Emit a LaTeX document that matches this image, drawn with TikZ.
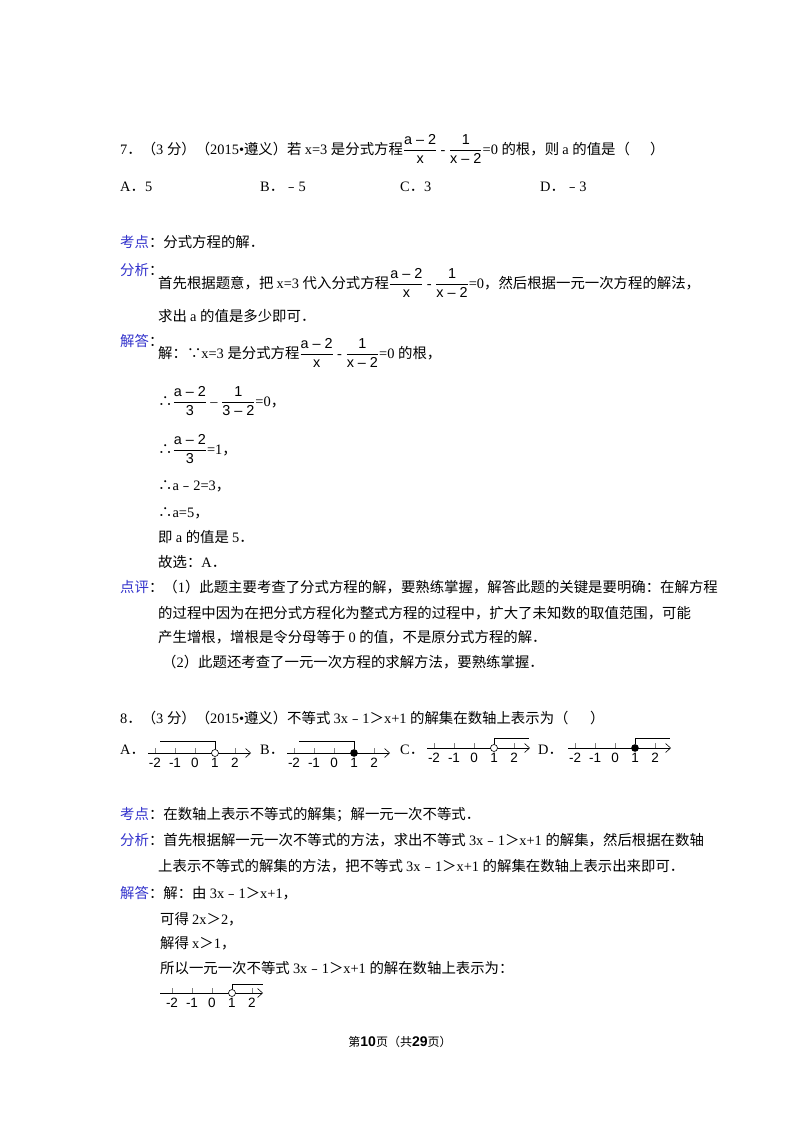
\documentclass[tikz,border=0pt]{standalone}
\usepackage{fontspec}
\usetikzlibrary{arrows.meta}
\setmainfont{Liberation Serif}
\newfontfamily\cjk{Noto Sans CJK SC}
\newfontfamily\lat{Liberation Serif}
\newfontfamily\arlf{Liberation Sans}
\newcommand\arl{\XeTeXinterchartokenstate=0 \arlf}
\XeTeXinterchartokenstate=1
\count255="4E00
\loop\XeTeXcharclass\count255=5 \ifnum\count255<"9FFF \advance\count255 by 1 \repeat
\count255="3000
\loop\XeTeXcharclass\count255=5 \ifnum\count255<"303F \advance\count255 by 1 \repeat
\count255="FF00
\loop\XeTeXcharclass\count255=5 \ifnum\count255<"FFEF \advance\count255 by 1 \repeat
\count255="FE30
\loop\XeTeXcharclass\count255=5 \ifnum\count255<"FE6F \advance\count255 by 1 \repeat
\XeTeXcharclass"2234=5 \XeTeXcharclass"2235=5
\XeTeXinterchartoks 0 5 = {\cjk}
\XeTeXinterchartoks 4095 5 = {\cjk}
\XeTeXinterchartoks 5 0 = {\lat}
\XeTeXinterchartoks 4095 0 = {\lat}
\newcommand\fr[2]{$\displaystyle\frac{\hbox{\arl #1}}{\hbox{\arl #2}}$}
\definecolor{lab}{RGB}{51,51,204}
\newcommand\lb[1]{\textcolor{lab}{#1}}
\tikzset{t/.style={anchor=base west,inner sep=0pt,font=\fontsize{14.4}{16}\selectfont},
 ax/.style={line width=0.6pt,-{Straight Barb[length=5pt,width=9pt]}},
 nlab/.style={anchor=base,inner sep=0pt,font=\arl\fontsize{13.5}{14}\selectfont}}
\newcommand\numax[3]{% x0, y, tick0
 \draw[ax] (#1,#2) -- ++(103,0);
 \foreach \k/\l in {0/-2,1/-1,2/0,3/1,4/2}{
  \draw[line width=0.4pt,gray] (#3+20*\k,#2) -- ++(0,-5);
  \node[nlab] at (#3+20*\k,#2+14) {\l};}}
\begin{document}
\begin{tikzpicture}[x=1pt,y=-1pt]
\useasboundingbox[fill=white] (0,0) rectangle (800,1132);
\node[t] (q7) at (120,154) {7．（3 分）（2015•遵义）若 x=3 是分式方程\fr{a – 2}{x} - \fr{1}{x – 2}=0 的根，则 a 的值是（};
\node[t] (q7e) at (650,154) {）};
\node[t] (a7) at (120,191) {A．5};
\node[t] (b7) at (260,191) {B．﹣5};
\node[t] (c7) at (400,191) {C．3};
\node[t] (d7) at (540,191) {D．﹣3};
\node[t] (k1) at (120,247) {\lb{考点}：分式方程的解．};
\node[t] (f1) at (120,275) {\lb{分析}：};
\node[t] (f1a) at (158,288) {首先根据题意，把 x=3 代入分式方程\fr{a – 2}{x} - \fr{1}{x – 2}=0，然后根据一元一次方程的解法，};
\node[t] (f1b) at (158,321) {求出 a 的值是多少即可．};
\node[t] (j1) at (120,346) {\lb{解答}：};
\node[t] (j1a) at (158,358) {解：∵x=3 是分式方程\fr{a – 2}{x} - \fr{1}{x – 2}=0 的根，};
\node[t] (j1b) at (158,406) {∴\fr{a – 2}{3} – \fr{1}{3 – 2}=0，};
\node[t] (j1c) at (158,454) {∴\fr{a – 2}{3}=1，};
\node[t] (j1d) at (158,490) {∴a﹣2=3，};
\node[t] (j1e) at (158,517) {∴a=5，};
\node[t] (j1f) at (158,542) {即 a 的值是 5．};
\node[t] (j1g) at (158,567) {故选：A．};
\node[t] (p1) at (120,592) {\lb{点评}：（1）此题主要考查了分式方程的解，要熟练掌握，解答此题的关键是要明确：在解方程};
\node[t] (p1b) at (158,618) {的过程中因为在把分式方程化为整式方程的过程中，扩大了未知数的取值范围，可能};
\node[t] (p1c) at (158,642) {产生增根，增根是令分母等于 0 的值，不是原分式方程的解．};
\node[t] (p1d) at (162,667) {（2）此题还考查了一元一次方程的求解方法，要熟练掌握．};
\node[t] (q8) at (120,723) {8．（3 分）（2015•遵义）不等式 3x﹣1＞x+1 的解集在数轴上表示为（};
\node[t] (q8e) at (590,723) {）};
\node[t] (a8) at (120,754) {A．};
\node[t] (b8) at (260,754) {B．};
\node[t] (c8) at (400,754) {C．};
\node[t] (d8) at (538,754) {D．};
% A
\numax{148}{753}{155}
\draw[line width=0.5pt] (160,741) -- (215,741) -- (215,749);
\draw[line width=0.6pt,fill=white] (215,753) circle (3.5);
% B
\numax{287}{753}{294}
\draw[line width=0.5pt] (299,741) -- (354,741) -- (354,749);
\fill (354,753) circle (3.8);
% C
\numax{427}{748}{434}
\draw[line width=0.5pt] (494,744) -- (494,738) -- (529,738);
\draw[line width=0.6pt,fill=white] (494,748) circle (3.5);
% D
\numax{568}{748}{575}
\draw[line width=0.5pt] (635,744) -- (635,738) -- (670,738);
\fill (635,748) circle (3.8);
\node[t] (k2) at (120,819) {\lb{考点}：在数轴上表示不等式的解集；解一元一次不等式．};
\node[t] (f2) at (120,845) {\lb{分析}：首先根据解一元一次不等式的方法，求出不等式 3x﹣1＞x+1 的解集，然后根据在数轴};
\node[t] (f2b) at (158,871) {上表示不等式的解集的方法，把不等式 3x﹣1＞x+1 的解集在数轴上表示出来即可．};
\node[t] (j2) at (120,898) {\lb{解答}：解：由 3x﹣1＞x+1，};
\node[t] (j2b) at (160,924) {可得 2x＞2，};
\node[t] (j2c) at (160,948) {解得 x＞1，};
\node[t] (j2d) at (160,973) {所以一元一次不等式 3x﹣1＞x+1 的解在数轴上表示为：};
\numax{160}{993}{172}
\draw[line width=0.5pt] (232,989) -- (232,984) -- (263,984);
\draw[line width=0.6pt,fill=white] (232,993) circle (3.5);
\node[anchor=base,inner sep=0pt,font=\fontsize{12}{13}\selectfont] (ft) at (400,1046) {第{\arl\bfseries\fontsize{14}{14}\selectfont 10}\XeTeXinterchartokenstate=1 页（共{\arl\bfseries\fontsize{14}{14}\selectfont 29}页）};
\end{tikzpicture}
\end{document}
